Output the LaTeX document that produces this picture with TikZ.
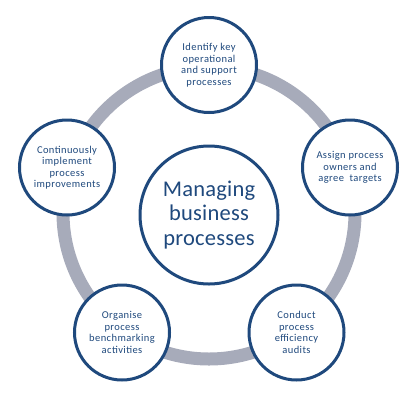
\documentclass[tikz,border=0pt]{standalone}
\usepackage{fontspec}
\setmainfont{Carlito}
\newfontfamily\stagefont[LetterSpace=4]{Carlito}
\newfontfamily\hubfont[LetterSpace=1]{Carlito}
\definecolor{navy}{HTML}{1F497D}
\definecolor{ringgray}{HTML}{A7ABBA}
\begin{document}
\begin{tikzpicture}[x=1pt,y=-1pt,
  stage/.style={circle,draw=navy,line width=3pt,fill=white,minimum size=95pt,inner sep=0pt,
    align=center,text=navy,font=\stagefont\fontsize{10.5}{11.5}\selectfont},
  hub/.style={circle,draw=navy,line width=3pt,fill=white,minimum size=138pt,inner sep=0pt,
    align=center,text=navy,font=\hubfont\fontsize{22.5}{24.5}\selectfont}]
\useasboundingbox (0,0) rectangle (420,400);
\coordinate (c) at (209,213);
\draw[ringgray,line width=13pt] (c) circle[radius=146];
\node[hub] (hub) at (209,215) {Managing\\business\\processes};
\node[stage] (s1) at (209,65) {Identify key\\operational\\and support\\processes};
\node[stage] (s2) at (350,167.5) {Assign process\\owners and\\agree\ \ targets};
\node[stage] (s3) at (296.5,332.5) {Conduct\\process\\efficiency\\audits};
\node[stage] (s4) at (122,332.5) {Organise\\process\\benchmarking\\activities};
\node[stage] (s5) at (67,167.5) {Continuously\\implement\\process\\improvements};
\end{tikzpicture}
\end{document}
